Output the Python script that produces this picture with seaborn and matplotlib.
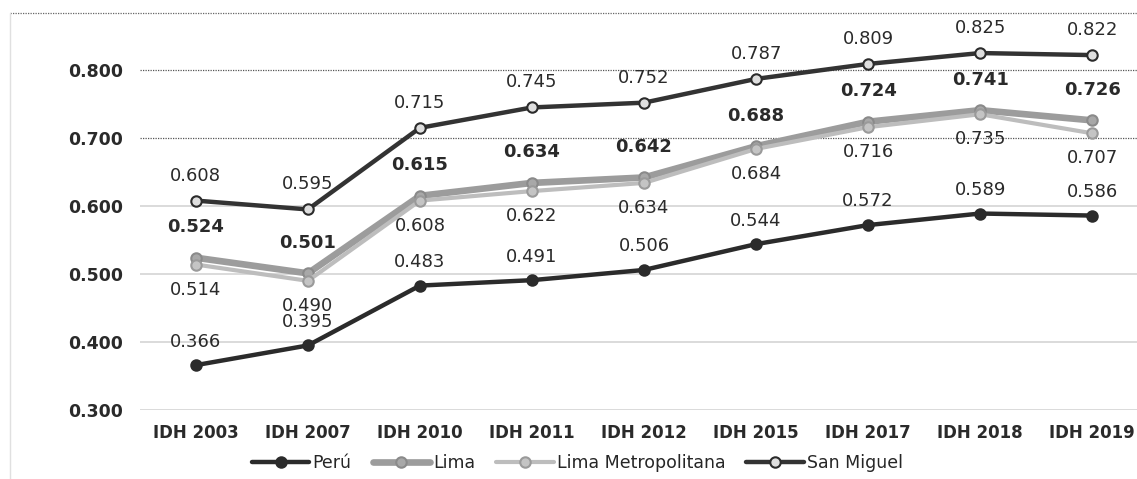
import matplotlib
matplotlib.use('Agg')
import matplotlib.pyplot as plt
import pandas as pd
import seaborn as sns

# Data
years = ['IDH 2003', 'IDH 2007', 'IDH 2010', 'IDH 2011', 'IDH 2012',
         'IDH 2015', 'IDH 2017', 'IDH 2018', 'IDH 2019']
peru = [0.366, 0.395, 0.483, 0.491, 0.506, 0.544, 0.572, 0.589, 0.586]
lima = [0.524, 0.501, 0.615, 0.634, 0.642, 0.688, 0.724, 0.741, 0.726]
lima_metro = [0.514, 0.490, 0.608, 0.622, 0.634, 0.684, 0.716, 0.735, 0.707]
san_miguel = [0.608, 0.595, 0.715, 0.745, 0.752, 0.787, 0.809, 0.825, 0.822]
y_ticks = [0.3, 0.4, 0.5, 0.6, 0.7, 0.8]

sns.set_theme(style='white')
plt.rcParams['font.family'] = ['DejaVu Sans']

fig = plt.figure(figsize=(11.37, 4.79), dpi=100)
fig.set_facecolor('white')
ax = fig.add_axes([0.123, 0.144, 0.877, 0.829])

x = list(range(len(years)))

# name, values, line colour, marker face, marker edge, lw, label offset (pt), bold
series = [
    ('Perú', peru, '#2b2b2b', '#2b2b2b', '#2b2b2b', 3.2, 17, False),
    ('Lima', lima, '#9c9c9c', '#a8a8a8', '#8a8a8a', 4.8, 22, True),
    ('Lima Metropolitana', lima_metro, '#bdbdbd', '#c4c4c4', '#9a9a9a', 3.0, -18, False),
    ('San Miguel', san_miguel, '#333333', '#dedede', '#2b2b2b', 3.2, 18, False),
]

for name, vals, col, mfc, mec, lw, off, bold in series:
    df = pd.DataFrame({'x': x, 'y': vals})
    sns.lineplot(data=df, x='x', y='y', ax=ax, color=col, linewidth=lw,
                 marker='o', markersize=7.5, markerfacecolor=mfc,
                 markeredgecolor=mec, markeredgewidth=1.5, label=name)
    for xi, v in zip(x, vals):
        ax.annotate(f'{v:.3f}', (xi, v), xytext=(0, off),
                    textcoords='offset points', ha='center', va='center',
                    fontsize=13, color='#2a2a2a',
                    fontweight='bold' if bold else 'normal')

ax.set_xlim(-0.5, 8.4)
ax.set_ylim(0.3, 0.884)
ax.set_yticks(y_ticks)
ax.set_yticklabels([f'{t:.3f}' for t in y_ticks], fontsize=12.5,
                   fontweight='bold', color='#2a2a2a')
ax.set_xticks(x)
ax.set_xticklabels(years, fontsize=12, fontweight='bold', color='#2a2a2a')
ax.tick_params(axis='y', pad=52, length=0)
ax.tick_params(axis='x', pad=10, length=0)
for lab in ax.get_yticklabels():
    lab.set_horizontalalignment('left')
ax.set_xlabel('')
ax.set_ylabel('')

for s in ax.spines.values():
    s.set_visible(False)

ax.grid(axis='y', color='#d4d4d4', linewidth=1.2)
ax.set_axisbelow(True)
for gl, t in zip(ax.get_ygridlines(), y_ticks):
    if t >= 0.7:
        gl.set_color('#555555')
        gl.set_linestyle((0, (1, 1)))
        gl.set_linewidth(0.9)

# frame of the chart (top dotted edge, left light edge)
fig.add_artist(plt.Line2D([10 / 1137, 1.0], [1 - 13 / 479, 1 - 13 / 479],
                          transform=fig.transFigure, color='#666666',
                          linestyle=(0, (1, 1)), linewidth=0.9))
fig.add_artist(plt.Line2D([10 / 1137, 10 / 1137], [0, 1 - 13 / 479],
                          transform=fig.transFigure, color='#e0e0e0',
                          linewidth=1.0))

ax.get_legend().remove()
handles, labels = ax.get_legend_handles_labels()
fig.legend(handles, labels, loc='center', bbox_to_anchor=(0.508, 0.034),
           ncol=4, frameon=False, fontsize=12.5, handlelength=3.3,
           handletextpad=0.2, columnspacing=1.2, borderaxespad=0)

fig.savefig('out.png', dpi=100, facecolor='white')
